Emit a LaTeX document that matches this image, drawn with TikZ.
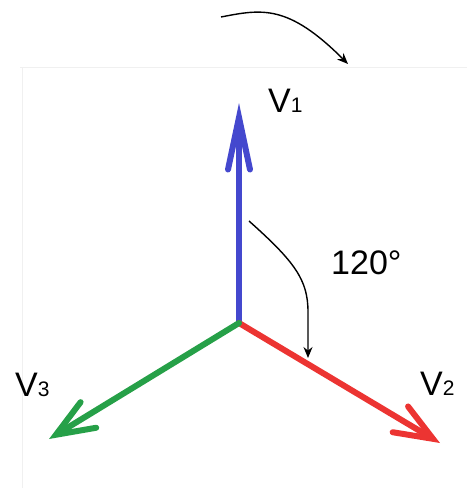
\documentclass[tikz,border=0pt]{standalone}
\usepackage{fontspec}
\setmainfont{Liberation Sans}
\usetikzlibrary{arrows.meta}
\definecolor{PhaseBlue}{RGB}{68,72,206}
\definecolor{PhaseRed}{RGB}{236,52,50}
\definecolor{PhaseGreen}{RGB}{38,160,72}

\tikzset{
  phasor/.style={line width=6pt, line cap=round, line join=round},
  bigtext/.style={anchor=base west, inner sep=0pt, font=\fontsize{34}{40}\selectfont},
  turnarrow/.style={line width=1.4pt, -{Stealth[length=11pt,width=9pt]}}
}
\newcommand{\subdigit}[1]{{\fontsize{21}{24}\selectfont #1}}

\begin{document}
\begin{tikzpicture}[x=1pt,y=-1pt]
\useasboundingbox (0,0) rectangle (467,488);
\draw[black!6] (20,67) -- (467,67);
\draw[black!6] (22,67) -- (22,488);

\coordinate (O) at (239,323);
\coordinate (tipA) at (239,103);
\coordinate (tipB) at (440,443);
\coordinate (tipC) at (49,439);

\draw[phasor, PhaseBlue, -{Straight Barb[length=52pt,width=22pt,line cap=round]}] (O) -- (tipA);
\draw[phasor, PhaseRed, -{Straight Barb[length=38pt,width=30pt,line cap=round]}] (O) -- (tipB);
\draw[phasor, PhaseGreen, -{Straight Barb[length=38pt,width=30pt,line cap=round]}] (O) -- (tipC);

\node[bigtext] (labA) at (268,112) {V\subdigit{1}};
\node[bigtext] (labB) at (420,395) {V\subdigit{2}};
\node[bigtext] (labC) at (15,396) {V\subdigit{3}};
\node[bigtext] (angle) at (331,274) {120°};

% rotation sense
\coordinate (rotA) at (221,17);
\coordinate (rotB) at (348,64);
\draw[turnarrow] (rotA) .. controls (262,9) and (288,4) .. (rotB);

% angle between phasors
\coordinate (arcA) at (249,221);
\coordinate (arcB) at (308,358);
\draw[turnarrow] (arcA) .. controls (295,262) and (308,280) .. (308,312) -- (arcB);
\end{tikzpicture}
\end{document}
